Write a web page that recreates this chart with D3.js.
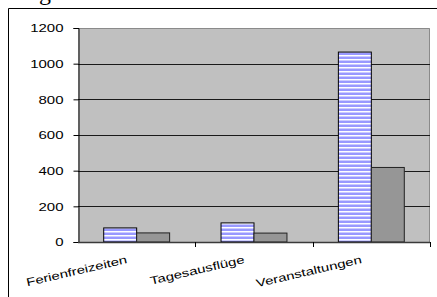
<!DOCTYPE html>
<html>
<head>
<meta charset="utf-8">
<script src="https://cdn.jsdelivr.net/npm/d3@7"></script>
<style>
  html, body { margin: 0; padding: 0; background: #ffffff; }
  svg { display: block; }
</style>
</head>
<body>
<div id="chart"></div>
<script>
// Chart data
const categories = ['Ferienfreizeiten', 'Tagesausflüge', 'Veranstaltungen'];
const seriesStriped = [79, 107, 1065];
const seriesGray = [51, 50, 418];
const yTicks = [0, 200, 400, 600, 800, 1000, 1200];

const W = 437, H = 297;
const plot = { left: 78, right: 430, top: 28, bottom: 242 };
const stretch = 1.36; // text in the original looks horizontally stretched

const svg = d3.select('#chart').append('svg')
    .attr('width', W)
    .attr('height', H);

// striped fill for first series
const defs = svg.append('defs');
const pat = defs.append('pattern')
    .attr('id', 'stripes')
    .attr('patternUnits', 'userSpaceOnUse')
    .attr('width', 8)
    .attr('height', 4);
pat.append('rect').attr('width', 8).attr('height', 4).attr('fill', '#ffffff');
pat.append('rect').attr('y', 0.5).attr('width', 8).attr('height', 2.5).attr('fill', '#9999ff');

// outer frame (cut off on right and bottom)
svg.append('path')
    .attr('d', `M8.5,${H}V8.5H${W}`)
    .attr('fill', 'none')
    .attr('stroke', '#000')
    .attr('stroke-width', 1);

// partially visible title glyph above the frame
svg.append('text')
    .attr('x', 39)
    .attr('y', 0)
    .attr('font-family', '"Liberation Serif", "Times New Roman", serif')
    .attr('font-size', 24)
    .attr('fill', '#000')
    .text('g');

// scales
const x0 = d3.scaleBand().domain(categories).range([plot.left, plot.right]);
const x1 = d3.scaleBand().domain(['a', 'b']).range([0, x0.bandwidth()]).paddingOuter(0.78);
const y = d3.scaleLinear().domain([0, 1200]).range([plot.bottom, plot.top]);

// plot area background
svg.append('rect')
    .attr('x', plot.left)
    .attr('y', plot.top)
    .attr('width', plot.right - plot.left)
    .attr('height', plot.bottom - plot.top)
    .attr('fill', '#c0c0c0');

// plot border (top and right)
svg.append('path')
    .attr('d', `M${plot.left},${plot.top + 0.5}H${plot.right - 0.5}V${plot.bottom}`)
    .attr('fill', 'none')
    .attr('stroke', '#8a8a8a')
    .attr('stroke-width', 1);

// gridlines
svg.append('g')
    .selectAll('line')
    .data(yTicks.filter(d => d > 0 && d < 1200))
    .join('line')
    .attr('x1', plot.left)
    .attr('x2', plot.right)
    .attr('y1', d => Math.round(y(d)) + 0.5)
    .attr('y2', d => Math.round(y(d)) + 0.5)
    .attr('stroke', '#1a1a1a')
    .attr('stroke-width', 1);

// bars
const groups = svg.append('g')
    .selectAll('g')
    .data(categories.map((c, i) => ({ c, a: seriesStriped[i], b: seriesGray[i] })))
    .join('g')
    .attr('transform', d => `translate(${x0(d.c)},0)`);

groups.append('rect')
    .attr('x', x1('a'))
    .attr('y', d => y(d.a))
    .attr('width', x1.bandwidth())
    .attr('height', d => y(0) - y(d.a))
    .attr('fill', 'url(#stripes)')
    .attr('stroke', '#000')
    .attr('stroke-width', 1);

groups.append('rect')
    .attr('x', x1('b'))
    .attr('y', d => y(d.b))
    .attr('width', x1.bandwidth())
    .attr('height', d => y(0) - y(d.b))
    .attr('fill', '#969696')
    .attr('stroke', '#222')
    .attr('stroke-width', 1);

// y axis
const yAxis = d3.axisLeft(y).tickValues(yTicks).tickFormat(d3.format('d')).tickSize(5).tickPadding(0);
const yG = svg.append('g')
    .attr('transform', `translate(${plot.left + 0.5},0)`)
    .call(yAxis);
yG.select('.domain').attr('stroke', '#000');
yG.selectAll('.tick line').attr('stroke', '#000');
yG.selectAll('.tick text')
    .attr('x', -15 / stretch)
    .attr('dy', '0.36em')
    .attr('transform', `scale(${stretch},1)`)
    .attr('font-family', 'Arial, "Liberation Sans", sans-serif')
    .attr('font-size', 11)
    .attr('fill', '#000');

// x axis line and ticks
svg.append('line')
    .attr('x1', plot.left)
    .attr('x2', plot.right)
    .attr('y1', plot.bottom + 0.5)
    .attr('y2', plot.bottom + 0.5)
    .attr('stroke', '#3a3a3a')
    .attr('stroke-width', 1.5);

svg.append('g')
    .selectAll('line')
    .data(categories)
    .join('line')
    .attr('x1', d => Math.round(x0(d) + x0.bandwidth()) + 0.5)
    .attr('x2', d => Math.round(x0(d) + x0.bandwidth()) + 0.5)
    .attr('y1', plot.bottom)
    .attr('y2', plot.bottom + 5)
    .attr('stroke', '#000');

// rotated category labels
svg.append('g')
    .selectAll('text')
    .data(categories)
    .join('text')
    .attr('transform', d => `translate(${x0(d) + x0.bandwidth() / 2 - 9},263) rotate(-13) scale(${stretch},1)`)
    .attr('text-anchor', 'end')
    .attr('font-family', 'Arial, "Liberation Sans", sans-serif')
    .attr('font-size', 11)
    .attr('fill', '#000')
    .text(d => d);
</script>
</body>
</html>
